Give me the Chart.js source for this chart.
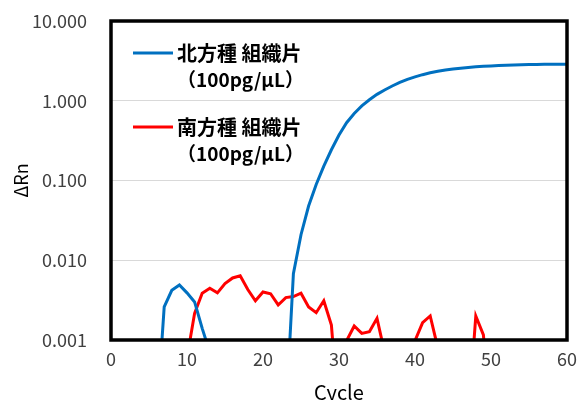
<!DOCTYPE html>
<html>
<head>
<meta charset="utf-8">
<script src="https://cdn.jsdelivr.net/npm/chart.js@4"></script>
<style>
html, body { margin: 0; padding: 0; background: #fff; }
</style>
</head>
<body>
<canvas id="myChart" width="579" height="400"></canvas>
<script>
// cycle numbers and ΔRn readings (values under 0.001 sit below the axis)
var cycles = [1, 2, 3, 4, 5, 6, 7, 8, 9, 10,
              11, 12, 13, 14, 15, 16, 17, 18, 19, 20,
              21, 22, 23, 24, 25, 26, 27, 28, 29, 30,
              31, 32, 33, 34, 35, 36, 37, 38, 39, 40,
              41, 42, 43, 44, 45, 46, 47, 48, 49, 50,
              51, 52, 53, 54, 55, 56, 57, 58, 59, 60];
var north_values = [0.0001, 0.0001, 0.0001, 0.0001, 0.0001, 0.0001, 0.0026, 0.0042, 0.0049, 0.0039,
                    0.003, 0.0014, 0.0007, 0.0001, 0.0001, 0.0001, 0.0001, 0.0001, 0.0001, 0.0001,
                    0.0001, 0.0001, 0.00011, 0.0068, 0.0209, 0.0479, 0.0891, 0.151, 0.243, 0.372,
                    0.531, 0.692, 0.861, 1.028, 1.202, 1.365, 1.531, 1.698, 1.854, 1.995,
                    2.123, 2.239, 2.339, 2.427, 2.50, 2.564, 2.618, 2.667, 2.704, 2.735,
                    2.767, 2.793, 2.812, 2.831, 2.844, 2.858, 2.864, 2.871, 2.871, 2.871];
var south_values = [0.0001, 0.0001, 0.0001, 0.0001, 0.0001, 0.0001, 0.0001, 0.0001, 0.0001, 0.0006,
                    0.00216, 0.00386, 0.00445, 0.0039, 0.0051, 0.006, 0.0064, 0.0043, 0.0031, 0.004,
                    0.0038, 0.00275, 0.0034, 0.0035, 0.00386, 0.0026, 0.0022, 0.0031, 0.00154, 0.0001,
                    0.00098, 0.0015, 0.00121, 0.00127, 0.00187, 0.0007, 0.0001, 0.0001, 0.0001, 0.00098,
                    0.00165, 0.002, 0.0008, 0.0001, 0.0001, 0.0001, 0.0001, 0.002, 0.00116, 0.0001,
                    0.0001, 0.0001, 0.0001, 0.0001, 0.0001, 0.0001, 0.0001, 0.0001, 0.0001, 0.0001];
var series_labels = [['北方種 組織片', '（100pg/μL）'], ['南方種 組織片', '（100pg/μL）']];
var series_colors = ['#0070C0', '#FF0000'];
var y_ticks = [0.001, 0.01, 0.1, 1, 10];
var x_ticks = [0, 10, 20, 30, 40, 50, 60];

var font_family = "'Noto Sans CJK JP', 'Noto Sans', sans-serif";
Chart.defaults.font.family = font_family;

function to_points(values) {
    return cycles.map(function (c, i) { return { x: c, y: values[i] }; });
}

// frame round the plot area, drawn over the lines
var frame_plugin = {
    id: 'frame',
    afterDatasetsDraw: function (chart) {
        var a = chart.chartArea;
        var ctx = chart.ctx;
        ctx.save();
        ctx.strokeStyle = '#000';
        ctx.lineWidth = 3.5;
        ctx.strokeRect(a.left, a.top, a.right - a.left, a.bottom - a.top);
        ctx.restore();
    }
};

// two-line legend inside the plot
var legend_plugin = {
    id: 'inner_legend',
    afterDraw: function (chart) {
        var ctx = chart.ctx;
        ctx.save();
        chart.data.datasets.forEach(function (ds, i) {
            var y = 53 + i * 74;
            ctx.strokeStyle = ds.borderColor;
            ctx.lineWidth = 3;
            ctx.beginPath();
            ctx.moveTo(133, y);
            ctx.lineTo(173, y);
            ctx.stroke();
            ctx.fillStyle = '#000';
            ctx.textBaseline = 'middle';
            ctx.textAlign = 'left';
            ds.label.forEach(function (line, j) {
                ctx.font = 'bold ' + (j === 0 ? 20 : 19) + 'px ' + font_family;
                ctx.fillText(line, 177, y + j * 27);
            });
        });
        ctx.restore();
    }
};

var ctx = document.getElementById('myChart').getContext('2d');
var myChart = new Chart(ctx, {
    type: 'line',
    data: {
        datasets: series_labels.map(function (lab, i) {
            return {
                label: lab,
                data: to_points(i === 0 ? north_values : south_values),
                borderColor: series_colors[i],
                borderWidth: 3,
                pointRadius: 0,
                tension: 0,
                fill: false
            };
        })
    },
    options: {
        responsive: false,
        animation: false,
        layout: { padding: { left: 0, right: 12, top: 21, bottom: 0 } },
        plugins: {
            legend: { display: false },
            tooltip: { enabled: false }
        },
        scales: {
            x: {
                type: 'linear',
                min: 0,
                max: 60,
                afterBuildTicks: function (axis) {
                    axis.ticks = x_ticks.map(function (v) { return { value: v }; });
                },
                afterFit: function (axis) {
                    axis.height = 60;
                    axis.paddingLeft = 0;
                    axis.paddingRight = 0;
                },
                grid: { display: false, drawTicks: false },
                border: { display: false },
                ticks: {
                    color: '#404040',
                    font: { size: 18 },
                    padding: 8,
                    maxRotation: 0
                },
                title: {
                    display: true,
                    text: 'Cycle',
                    color: '#000',
                    font: { size: 20 },
                    padding: { top: 0, bottom: -4 }
                }
            },
            y: {
                type: 'logarithmic',
                min: 0.001,
                max: 10,
                afterBuildTicks: function (axis) {
                    axis.ticks = y_ticks.map(function (v) { return { value: v }; });
                },
                afterFit: function (axis) {
                    axis.width = 111;
                    axis.paddingTop = 0;
                    axis.paddingBottom = 0;
                },
                grid: { color: '#d9d9d9', lineWidth: 1, drawTicks: false },
                border: { display: false },
                ticks: {
                    color: '#404040',
                    font: { size: 18 },
                    padding: 24,
                    callback: function (v) { return Number(v).toFixed(3); }
                },
                title: {
                    display: true,
                    text: 'ΔRn',
                    color: '#000',
                    font: { size: 18 },
                    padding: { top: 10, bottom: 0 }
                }
            }
        }
    },
    plugins: [frame_plugin, legend_plugin]
});
</script>
</body>
</html>
